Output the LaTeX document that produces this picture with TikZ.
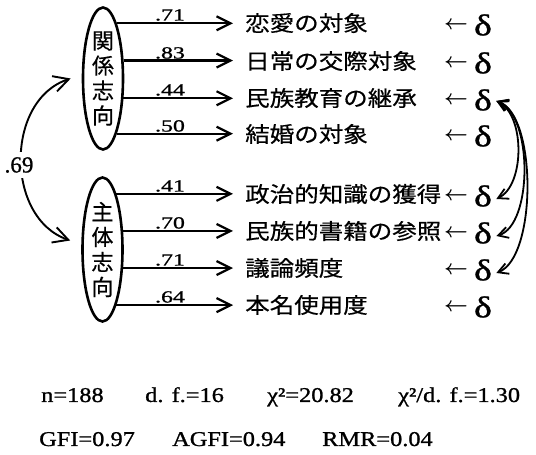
\documentclass[tikz,border=0pt]{standalone}
\usepackage{fontspec}
\setmainfont{Liberation Serif}
\newfontfamily\serifheavy{Liberation Serif}[FakeBold=1]
\newfontfamily\jp{Noto Sans CJK JP}[FakeBold=0.5]
\usetikzlibrary{arrows.meta,shapes.geometric}
\begin{document}
\begin{tikzpicture}[x=1pt,y=1pt,
  lat/.style={ellipse, draw, line width=2.6pt, minimum width=40pt, minimum height=142pt, inner sep=0pt, align=center, font=\jp\fontsize{22}{25}\selectfont},
  ind/.style={anchor=west, inner sep=0pt, xscale=1.14, font=\jp\fontsize{21.5}{24}\selectfont},
  lbl/.style={anchor=base, inner sep=0pt, xscale=1.4, font=\serifheavy\fontsize{17}{20}\selectfont},
  lblc/.style={fill=white, inner xsep=1pt, inner ysep=5pt, font=\serifheavy\fontsize{23}{26}\selectfont},
  err/.style={inner sep=1pt, xscale=1.25, font=\serifheavy\fontsize{30}{32}\selectfont},
  lar/.style={inner sep=0pt, font=\boldmath\fontsize{20}{22}\selectfont},
  stat/.style={anchor=base west, inner sep=0pt, xscale=1.16, font=\serifheavy\fontsize{21}{24}\selectfont},
  load/.style={line width=2.2pt, -{Straight Barb[length=14pt,width=14pt]}, shorten >=12pt},
  cov/.style={line width=1.8pt, {Straight Barb[length=10pt,width=11pt]}-{Straight Barb[length=10pt,width=11pt]}},
  cor/.style={line width=1.9pt, {Straight Barb[length=15pt,width=16pt]}-{Straight Barb[length=15pt,width=16pt]}}
]
\useasboundingbox (0,0) rectangle (536,455);

% latent variables
\node[lat] (K1) at (103,376.5) {関\\係\\志\\向};
\node[lat, minimum height=144pt] (K2) at (102.5,205.5) {主\\体\\志\\向};

% indicators
\node[ind] (t1) at (245,432) {恋愛の対象};
\node[ind] (t2) at (245,394) {日常の交際対象};
\node[ind] (t3) at (245,357) {民族教育の継承};
\node[ind] (t4) at (245,321) {結婚の対象};
\node[ind] (t5) at (245,261) {政治的知識の獲得};
\node[ind] (t6) at (245,224) {民族的書籍の参照};
\node[ind] (t7) at (245,187) {議論頻度};
\node[ind] (t8) at (245,150) {本名使用度};

% loadings
\draw[load] (K1.76) -- (K1.76 -| t1.west);
\draw[load] (K1.41) -- (K1.41 -| t2.west);
\draw[load] (K1.-44) -- (K1.-44 -| t3.west);
\draw[load] (K1.-76) -- (K1.-76 -| t4.west);
\draw[load] (K2.76) -- (K2.76 -| t5.west);
\draw[load] (K2.42) -- (K2.42 -| t6.west);
\draw[load] (K2.-42) -- (K2.-42 -| t7.west);
\draw[load] (K2.-76) -- (K2.-76 -| t8.west);

\node[lbl] (n1) at (170,434.5) {.71};
\node[lbl] (n2) at (170,396.5) {.83};
\node[lbl] (n3) at (170,359.5) {.44};
\node[lbl] (n4) at (170,323.5) {.50};
\node[lbl] (n5) at (170,263.5) {.41};
\node[lbl] (n6) at (170,226.5) {.70};
\node[lbl] (n7) at (170,189.5) {.71};
\node[lbl] (n8) at (170,152.5) {.64};

% errors
\foreach \i/\y in {1/432,2/394,3/357,4/321,5/261,6/224,7/187,8/150}{
  \node[lar] (a\i) at (456,\y-2) {$\leftarrow$};
  \node[err] (e\i) at (483,\y-2) {δ};
}

% error covariances
\draw[cov] ([shift={(3pt,-1pt)}]e3.east) .. controls (525,340) and (525,270) .. ([shift={(3pt,-3pt)}]e5.east);
\draw[cov] ([shift={(3pt,-1pt)}]e3.east) .. controls (533,340) and (533,230) .. ([shift={(3pt,-3pt)}]e6.east);
\draw[cov] ([shift={(3pt,-1pt)}]e3.east) .. controls (537,340) and (537,198) .. ([shift={(3pt,-3pt)}]e7.east);

% factor correlation
\coordinate (c1) at ([xshift=-11pt]K1.west);
\coordinate (c2) at ([shift={(-11pt,9pt)}]K2.west);
\draw[cor] (c1) .. controls (5,355) and (5,237) .. (c2);
\node[lblc] (r) at (19,290) {.69};

% fit statistics
\node[stat] (s1) at (41,53) {n=188};
\node[stat] (s2) at (145,53) {d. f.=16};
\node[stat] (s3) at (267,53) {χ²=20.82};
\node[stat] (s4) at (398,53) {χ²/d. f.=1.30};
\node[stat] (s5) at (39,9) {GFI=0.97};
\node[stat] (s6) at (172,9) {AGFI=0.94};
\node[stat] (s7) at (322,9) {RMR=0.04};
\end{tikzpicture}
\end{document}
